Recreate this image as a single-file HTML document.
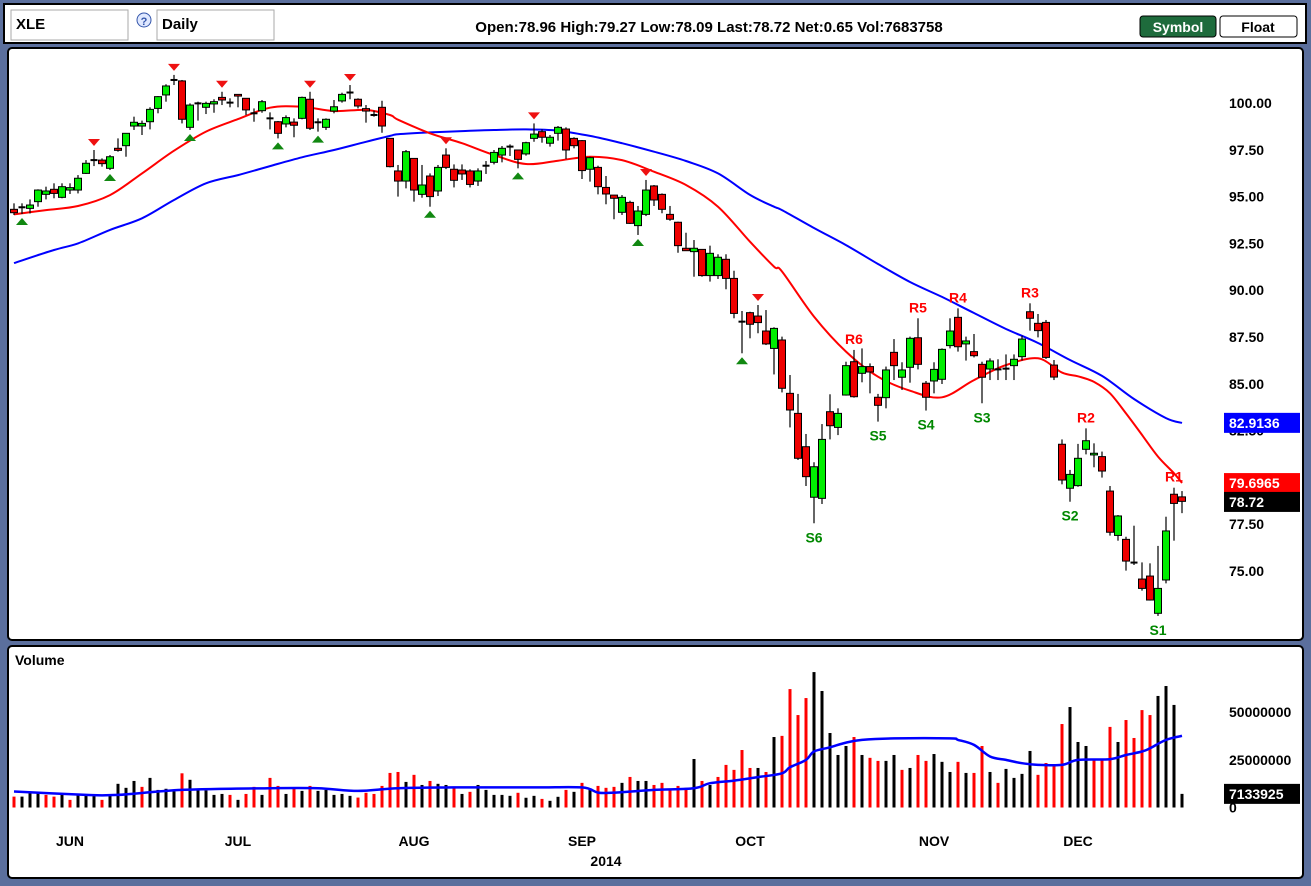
<!DOCTYPE html>
<html><head><meta charset="utf-8"><title>XLE Daily</title>
<style>
html,body{margin:0;padding:0;background:#5b6f9d;}
svg{display:block;font-family:"Liberation Sans",Arial,sans-serif;}
.b{font-weight:bold;}
</style></head>
<body>
<svg id="chart" width="1311" height="886" viewBox="0 0 1311 886" xmlns="http://www.w3.org/2000/svg">
  <rect x="0" y="0" width="1311" height="886" fill="#5b6f9d"/>
  <g>
    <rect x="4" y="4" width="1302" height="39" fill="#fff" stroke="#000" stroke-width="2"/>
    <rect x="11" y="10" width="117" height="30" fill="#fff" stroke="#aaa"/>
    <text x="16" y="29" font-size="15" class="b">XLE</text>
    <circle cx="144" cy="20" r="7" fill="#dfe8ff" stroke="#3355aa"/>
    <text x="144" y="25" font-size="11" text-anchor="middle" fill="#3355aa" class="b">?</text>
    <rect x="157" y="10" width="117" height="30" fill="#fff" stroke="#aaa"/>
    <text x="162" y="29" font-size="15" class="b">Daily</text>
    <text x="709" y="32" font-size="15" class="b" text-anchor="middle">Open:78.96  High:79.27  Low:78.09  Last:78.72  Net:0.65  Vol:7683758</text>
    <rect x="1140" y="16" width="76" height="21" rx="3" fill="#1e6b3c" stroke="#000"/>
    <text x="1178" y="32" font-size="14" class="b" fill="#fff" text-anchor="middle">Symbol</text>
    <rect x="1220" y="16" width="77" height="21" rx="3" fill="#fff" stroke="#000"/>
    <text x="1258" y="32" font-size="14" class="b" text-anchor="middle">Float</text>
  </g>
  <rect x="8" y="48" width="1295" height="592" rx="4" fill="#fff" stroke="#000" stroke-width="2"/>
  <rect x="8" y="646" width="1295" height="232" rx="4" fill="#fff" stroke="#000" stroke-width="2"/>
  <text x="15" y="665" font-size="14" class="b">Volume</text>
  <g id="price"></g>
  <g id="vol"></g>
  <g id="axes"></g>
</svg>
<script>
const opens=[94.32,94.43,94.37,94.73,95.12,95.39,94.96,95.35,95.35,96.24,96.95,96.95,96.51,97.58,97.72,98.77,98.77,99.00,99.71,100.43,101.23,101.18,98.70,99.98,99.77,99.95,100.30,100.02,100.46,100.25,99.45,99.59,99.18,99.00,98.88,98.98,99.18,100.20,98.97,98.70,99.57,100.11,100.60,100.20,99.70,99.36,99.77,98.11,96.37,
95.83,97.04,95.12,96.10,95.30,97.22,96.46,96.42,96.37,95.83,96.65,96.83,97.22,97.67,97.49,97.28,98.11,98.47,97.85,98.38,98.61,98.11,97.99,96.46,96.56,95.49,95.08,94.16,94.69,93.45,94.05,95.57,95.12,94.05,93.63,92.24,92.06,92.18,90.78,90.78,91.65,90.63,88.32,88.80,88.62,87.82,86.89,87.34,84.49,83.42,81.64,78.94,78.88,83.51,82.67,84.40,86.18,85.56,85.92,84.28,84.26,86.68,85.35,85.88,87.46,85.03,85.15,85.24,87.04,88.55,87.13,86.72,86.04,85.79,85.77,85.81,85.97,86.45,88.85,88.23,88.28,86.00,81.77,79.42,79.56,81.50,81.20,81.11,79.27,76.90,76.69,75.45,74.57,74.73,72.74,74.52,79.10,78.96];
const highs=[94.64,94.64,94.85,95.39,95.53,95.71,95.71,95.71,96.15,96.95,97.49,97.04,97.22,98.11,98.38,99.27,99.06,99.77,100.37,101.00,101.50,101.23,99.98,100.07,100.07,100.20,100.60,100.25,100.46,100.25,99.71,100.16,99.50,99.04,99.34,99.18,100.34,100.60,99.18,99.18,100.16,100.55,100.96,100.25,99.89,99.59,100.12,98.11,96.69,
97.49,97.04,96.69,96.24,96.69,97.58,96.72,96.72,96.46,96.51,96.90,97.49,97.70,97.79,97.49,97.93,98.91,98.59,98.29,98.77,98.70,98.17,98.02,97.13,96.65,96.10,95.08,95.08,94.78,94.50,95.89,95.62,95.17,94.50,93.66,93.07,92.68,92.20,92.38,91.92,91.92,91.04,88.89,88.85,89.21,88.94,88.02,87.52,85.47,84.46,82.32,80.81,82.85,84.44,83.69,86.18,86.81,86.89,86.09,84.46,85.92,87.39,86.15,87.52,88.50,85.15,86.15,86.89,88.50,89.03,87.52,87.66,86.18,86.36,86.31,86.57,86.57,87.57,89.30,88.73,88.41,86.27,82.03,80.40,81.79,82.62,81.82,81.38,79.54,77.99,76.83,77.42,75.46,75.41,76.34,77.90,79.45,79.27];
const lows=[94.02,94.07,94.10,94.46,94.85,94.91,94.91,95.14,95.17,96.21,96.63,96.60,96.42,97.40,97.13,98.56,98.29,98.59,99.45,100.07,100.96,98.91,98.56,99.06,99.41,99.48,99.89,99.77,99.77,99.36,99.00,99.48,98.59,98.11,98.70,98.17,99.13,98.56,98.47,98.56,99.45,100.02,100.20,99.71,98.95,99.27,98.41,96.56,95.00,
95.44,94.73,94.94,94.46,95.03,96.47,95.49,95.89,95.49,95.57,96.21,96.72,96.83,97.17,96.51,97.19,97.93,97.88,97.67,97.99,97.01,97.58,95.94,95.80,95.12,94.59,93.79,94.02,93.54,92.95,93.96,94.50,94.11,93.71,92.00,92.11,90.72,90.72,90.46,90.60,90.05,88.50,86.63,87.43,87.70,87.07,85.50,84.54,82.67,80.93,79.54,77.55,78.58,82.03,82.26,84.37,84.26,85.08,84.49,82.98,83.69,85.20,84.67,85.06,85.77,83.57,84.49,84.99,86.89,86.72,86.24,86.41,83.96,85.20,85.20,85.20,85.20,86.24,87.84,87.48,86.33,85.20,79.63,78.70,79.50,81.23,80.54,79.99,76.89,76.62,75.02,75.32,73.95,73.42,72.60,74.34,76.62,78.09];
const closes=[94.14,94.43,94.55,95.35,95.30,95.17,95.53,95.48,95.98,96.78,96.95,96.76,97.13,97.47,98.38,98.97,98.91,99.66,100.34,100.91,101.23,99.13,99.89,99.98,99.98,100.07,100.16,100.02,100.37,99.63,99.45,100.07,99.18,98.38,99.22,98.81,100.30,98.65,98.97,99.13,99.80,100.46,100.52,99.84,99.57,99.36,98.77,96.60,95.83,
97.40,95.35,95.62,95.00,96.56,96.56,95.87,96.21,95.65,96.37,96.65,97.36,97.58,97.67,96.99,97.88,98.34,98.17,98.17,98.70,97.49,97.72,96.39,97.08,95.53,95.14,94.91,94.96,93.57,94.23,95.35,94.82,94.32,93.79,92.38,92.11,92.24,90.78,91.97,91.76,90.63,88.76,88.32,88.18,88.27,87.13,87.96,84.76,83.60,81.02,80.04,80.57,82.03,82.76,83.42,85.97,84.31,85.92,85.63,83.85,85.74,85.97,85.74,87.43,86.04,84.28,85.77,86.84,87.82,86.98,87.29,86.50,85.35,86.22,85.77,85.81,86.31,87.39,88.50,87.84,86.41,85.36,79.86,80.16,81.02,81.96,81.29,80.34,77.07,77.94,75.53,75.45,74.07,73.45,74.07,77.14,78.61,78.72];
const volumes=[5.7,5.7,7.8,7.8,6.6,5.7,6.6,4.0,6.6,6.1,6.1,4.0,6.6,12.4,10.3,13.9,10.8,15.5,9.2,9.8,8.4,17.9,14.5,8.9,8.9,6.6,7.1,6.6,4.0,7.1,10.8,6.6,15.5,11.3,7.1,9.8,8.7,11.3,8.7,9.2,6.6,7.1,6.1,5.2,7.7,7.1,11.3,18.1,18.6,
13.4,17.1,11.8,13.9,12.4,11.8,10.8,7.1,8.2,11.8,9.2,6.6,6.6,6.1,7.7,5.1,6.1,4.5,3.5,5.6,9.2,8.2,12.9,9.2,11.3,10.3,10.8,12.9,16.0,13.9,13.9,11.8,12.9,9.8,11.3,10.3,25.4,13.9,11.8,16.0,22.3,19.7,30.1,20.7,20.7,18.6,36.9,37.5,62.0,48.4,57.3,70.9,61.0,39.0,27.5,32.2,36.9,27.5,26.0,24.4,24.4,27.5,19.7,20.7,27.5,24.4,28.0,23.9,18.6,23.9,18.1,18.1,32.2,18.6,12.9,20.2,15.5,17.6,29.6,17.1,23.3,21.8,43.7,52.6,34.3,32.2,24.9,24.9,42.2,34.3,45.8,36.4,51.0,48.4,58.4,63.6,53.7,7.13];
const redMaIdx=[0,4,8,12,16,20,24,28,32,36,40,44,47,48,52,56,60,64,68,72,76,80,84,88,92,95,96,100,104,108,112,116,120,124,128,131,133,135,137,139,141,143,145,146];
const redMaVal=[94.05,94.28,94.50,95.08,96.24,97.45,98.47,99.14,99.75,99.80,99.57,99.63,99.36,99.11,98.38,97.85,97.22,96.74,96.92,97.13,96.95,96.33,95.62,94.46,92.59,91.26,91.0,88.59,86.72,85.38,84.63,84.28,85.20,86.0,86.36,85.6,85.4,85.1,84.49,83.42,82.27,81.11,80.22,79.70];
const blueMaIdx=[0,5,8,12,16,20,24,28,32,36,40,44,47,48,52,56,60,64,68,72,76,80,84,88,92,95,96,100,104,108,112,116,120,124,128,132,136,140,144,146];
const blueMaVal=[91.45,92.15,92.50,93.22,93.84,94.82,95.71,96.15,96.63,97.10,97.49,97.93,98.24,98.33,98.43,98.50,98.56,98.59,98.52,98.24,97.85,97.40,96.90,96.24,95.09,94.46,94.28,93.32,92.41,91.40,90.44,89.64,88.78,87.93,87.18,86.27,85.42,84.19,83.17,82.91];
const volMaIdx=[0,9,13,21,32,38,43,48,55,65,71,73,75,80,85,87,90,93,96,97,99,100,102,104,106,110,117,118,120,122,124,126,128,131,133,137,139,141,142,144,146];
const volMaVal=[8.4,6.6,6.6,9.2,10.1,10.1,8.7,10.1,10.5,10.5,10.5,7.8,7.8,9.2,10.1,12.7,14.1,15.9,17.9,21.1,24.9,29.3,31.5,34.0,35.4,36.2,36.2,35.4,32.8,26.7,24.9,23.2,22.3,22.3,24.9,25.3,27.5,29.3,31.0,35.4,37.5];
const peakIdx=[10,20,26,37,42,54,65,79,93];
const troughIdx=[1,12,22,33,38,52,63,78,91];
const resLabels=["R6","R5","R4","R3","R2","R1"];
const resIdx=[105,113,118,127,134,145];
const supLabels=["S6","S5","S4","S3","S2","S1"];
const supIdx=[100,108,114,121,132,143];
const priceTicks=[100,97.5,95,92.5,90,87.5,85,82.5,77.5,75];
const volTicks=[50,25,0];
const volTickLabels=["50000000","25000000","0"];
const months=["JUN","JUL","AUG","SEP","OCT","NOV","DEC"];
const monthStartIdx=[7,28,50,71,92,115,133];
const lastBlue=82.9136, lastRed=79.6965, lastClose=78.72, lastVol=7133925;

const NS="http://www.w3.org/2000/svg";
const xI=i=>14+8*i;
const yP=p=>103+(100-p)*18.72;
const yV=v=>807.5-v*1.91;
function mk(parent,tag,attrs){const e=document.createElementNS(NS,tag);for(const k in attrs)e.setAttribute(k,attrs[k]);parent.appendChild(e);return e;}
const gP=document.getElementById('price'), gV=document.getElementById('vol'), gA=document.getElementById('axes');

// smooth moving-average path (Catmull-Rom through the read points)
function maPath(idx,vals,ys){
  const pts=idx.map((d,k)=>[xI(d),ys(vals[k])]);
  let d='M'+pts[0][0].toFixed(1)+' '+pts[0][1].toFixed(1);
  for(let k=0;k<pts.length-1;k++){
    const p0=pts[Math.max(0,k-1)],p1=pts[k],p2=pts[k+1],p3=pts[Math.min(pts.length-1,k+2)];
    const c1=[p1[0]+(p2[0]-p0[0])/6,p1[1]+(p2[1]-p0[1])/6];
    const c2=[p2[0]-(p3[0]-p1[0])/6,p2[1]-(p3[1]-p1[1])/6];
    d+=` C${c1[0].toFixed(1)} ${c1[1].toFixed(1)} ${c2[0].toFixed(1)} ${c2[1].toFixed(1)} ${p2[0].toFixed(1)} ${p2[1].toFixed(1)}`;
  }
  return d;
}
let ma50=mk(gP,'path',{d:maPath(blueMaIdx,blueMaVal,yP),fill:'none',stroke:'#0000ff','stroke-width':2});


let ma20=mk(gP,'path',{d:maPath(redMaIdx,redMaVal,yP),fill:'none',stroke:'#ff0000','stroke-width':2});



for(let i=0;i<opens.length;i++){
  const x=xI(i),o=opens[i],c=closes[i],h=highs[i],l=lows[i];
  const g=mk(gP,'g',{});
  
  
  mk(g,'line',{x1:x,x2:x,y1:yP(h),y2:yP(l),stroke:'#000','stroke-width':1.2});
  const top=yP(Math.max(o,c)),bot=yP(Math.min(o,c));
  if(bot-top<1.5){mk(g,'line',{x1:x-3.5,x2:x+3.5,y1:(top+bot)/2,y2:(top+bot)/2,stroke:'#000','stroke-width':2});}
  else mk(g,'rect',{x:x-3.5,y:top,width:7,height:bot-top,fill:c>o?'#00ee00':'#ee0000',stroke:'#000','stroke-width':1});
}
peakIdx.forEach(i=>{const x=xI(i),y=yP(highs[i])-4;
  const t=mk(gP,'polygon',{points:`${x-6},${y-7} ${x+6},${y-7} ${x},${y}`,fill:'#ee1111'});
  
  });
troughIdx.forEach(i=>{const x=xI(i),y=yP(lows[i])+4;
  const t=mk(gP,'polygon',{points:`${x-6},${y+7} ${x+6},${y+7} ${x},${y}`,fill:'#118811'});
  
  });
resIdx.forEach((i,k)=>{const t=mk(gP,'text',{x:xI(i),y:yP(highs[i])-6,'font-size':14,'font-weight':'bold',fill:'#ff0000','text-anchor':'middle'});
  t.textContent=resLabels[k];
  
  });
supIdx.forEach((i,k)=>{const t=mk(gP,'text',{x:xI(i),y:yP(lows[i])+19,'font-size':14,'font-weight':'bold',fill:'#008800','text-anchor':'middle'});
  t.textContent=supLabels[k];
  
  });

for(let i=0;i<volumes.length;i++){
  const up=i===0?closes[0]>=opens[0]:closes[i]>=closes[i-1];
  const r=mk(gV,'rect',{x:xI(i)-1.5,y:yV(volumes[i]),width:3,height:volumes[i]*1.91,fill:up?'#000':'#ff0000'});
  
  
}
let vma=mk(gV,'path',{d:maPath(volMaIdx,volMaVal,yV),fill:'none',stroke:'#0000ff','stroke-width':2.5});



priceTicks.forEach(p=>{const t=mk(gA,'text',{x:1229,y:yP(p)+5,'font-size':14,'font-weight':'bold'});
  t.textContent=p.toFixed(2);
  
  });
function box(val,fill,txt,name){const y=yP(val);
  const r=mk(gA,'rect',{x:1224,y:y-10,width:76,height:20,fill:fill});
  
  
  const t=mk(gA,'text',{x:1229,y:y+5,'font-size':14,'font-weight':'bold',fill:'#fff'});
  t.textContent=txt;
  
  }
box(lastBlue,'#0000ff',lastBlue.toFixed(4),'blue-ma-value');
box(lastRed,'#ff0000',lastRed.toFixed(4),'red-ma-value');
box(lastClose-0.03,'#000',lastClose.toFixed(2),'last-price');
volTicks.forEach((v,k)=>{const t=mk(gA,'text',{x:1229,y:yV(v)+5,'font-size':14,'font-weight':'bold'});
  t.textContent=volTickLabels[k];
  
  });
{const y=yV(lastVol/1e6);
 const r=mk(gA,'rect',{x:1224,y:y-10,width:76,height:20,fill:'#000'});
 
 
 const t=mk(gA,'text',{x:1229,y:y+5,'font-size':14,'font-weight':'bold',fill:'#fff'});
 t.textContent=String(lastVol);
 
 }
months.forEach((m,k)=>{const t=mk(gA,'text',{x:xI(monthStartIdx[k]),y:846,'font-size':14,'font-weight':'bold','text-anchor':'middle'});
  t.textContent=m;
  
  });
{const t=mk(gA,'text',{x:606,y:866,'font-size':14,'font-weight':'bold','text-anchor':'middle'});
 t.textContent='2014';
 
 }
</script>
</body></html>
